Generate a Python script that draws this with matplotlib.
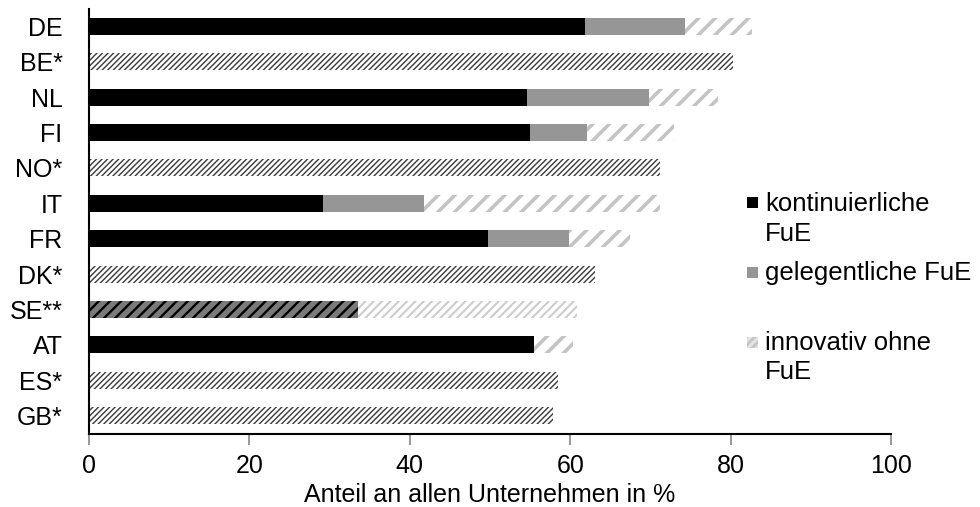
import numpy as np
import matplotlib
matplotlib.use('Agg')
import matplotlib.pyplot as plt
from matplotlib.patches import Rectangle

plt.rcParams['font.family'] = ['Liberation Sans', 'DejaVu Sans']

# Daten (Anteil an allen Unternehmen in %)
countries = ['DE', 'BE*', 'NL', 'FI', 'NO*', 'IT', 'FR', 'DK*', 'SE**', 'AT', 'ES*', 'GB*']
kontinuierlich = [61.8, 0, 54.6, 55.0, 0, 29.2, 49.8, 0, 0, 55.5, 0, 0]
gelegentlich = [12.5, 0, 15.2, 7.1, 0, 12.6, 10.1, 0, 0, 0, 0, 0]
innovativ_ohne = [8.4, 0, 8.6, 10.8, 0, 29.4, 7.6, 0, 27.3, 4.8, 0, 0]
# nur Gesamtwert verfuegbar (*)
insgesamt = [0, 80.3, 0, 0, 71.2, 0, 0, 63.1, 0, 0, 58.5, 57.9]
# SE**: FuE insgesamt (kontinuierlich + gelegentlich)
fue_gesamt = [0, 0, 0, 0, 0, 0, 0, 0, 33.5, 0, 0, 0]

legend_labels = [['kontinuierliche', 'FuE'], ['gelegentliche FuE'], ['innovativ ohne', 'FuE']]

y = np.arange(len(countries))
h = 0.48
FS = 18

fig = plt.figure(figsize=(9.8, 5.07), dpi=100)
ax = fig.add_axes([89 / 980, 1 - 433.5 / 507, 802 / 980, 425 / 507])


def hbar(left, width, hatch_lw=1.0, **kw):
    with plt.rc_context({'hatch.linewidth': hatch_lw}):
        bars = ax.barh(y, width, left=left, height=h, linewidth=0, **kw)
        for b in bars:
            if hasattr(b, 'set_hatch_linewidth'):
                b.set_hatch_linewidth(hatch_lw)
    return bars


k = np.array(kontinuierlich)
g = np.array(gelegentlich)
io = np.array(innovativ_ohne)
fg = np.array(fue_gesamt)

hbar(0, k, color='black')
hbar(k, g, color='#969696')
hbar(0, fg, facecolor='#7a7a7a', edgecolor='black', hatch='///', hatch_lw=1.7)
base = k + g + fg
light_dense = fg > 0
hbar(base, np.where(light_dense, 0, io), facecolor='white', edgecolor='#c4c4c4', hatch='//', hatch_lw=2.6)
hbar(base, np.where(light_dense, io, 0), facecolor='white', edgecolor='#cdcdcd', hatch='////', hatch_lw=1.5)
hbar(0, insgesamt, facecolor='white', edgecolor='#3a3a3a', hatch='//////', hatch_lw=1.0)

ax.set_xlim(0, 100)
ax.set_ylim(len(countries) - 0.5, -0.5)
ax.set_yticks(y)
ax.set_yticklabels(countries, fontsize=FS)
ax.tick_params(axis='y', length=0, pad=19)
ax.set_xticks(np.arange(0, 101, 20))
ax.tick_params(axis='x', labelsize=FS, length=8, width=1.2, color='#888888', pad=7)
ax.set_xlabel('Anteil an allen Unternehmen in %', fontsize=FS, labelpad=3)
for s in ['top', 'right']:
    ax.spines[s].set_visible(False)
for s in ['left', 'bottom']:
    ax.spines[s].set_linewidth(1.5)
    ax.spines[s].set_color('black')


def fx(px):
    return px / 980


def fy(px):
    return 1 - px / 507


# Legende
markers = [dict(facecolor='black', edgecolor='black', hatch=None),
           dict(facecolor='#969696', edgecolor='#969696', hatch=None),
           dict(facecolor='#e4e4e4', edgecolor='#c4c4c4', hatch='////')]
marker_top = [197, 267, 337]
baselines = [[211, 241], [280], [350, 379]]
for m, top, lines, bls in zip(markers, marker_top, legend_labels, baselines):
    with plt.rc_context({'hatch.linewidth': 2.0}):
        r = Rectangle((fx(747), fy(top + 11)), 11 / 980, 11 / 507, transform=fig.transFigure,
                      linewidth=0, **m)
    fig.patches.append(r)
    for txt, bl in zip(lines, bls):
        fig.text(fx(765), fy(bl), txt, fontsize=18.5, va='baseline', ha='left')

fig.savefig('out.png', dpi=100)
